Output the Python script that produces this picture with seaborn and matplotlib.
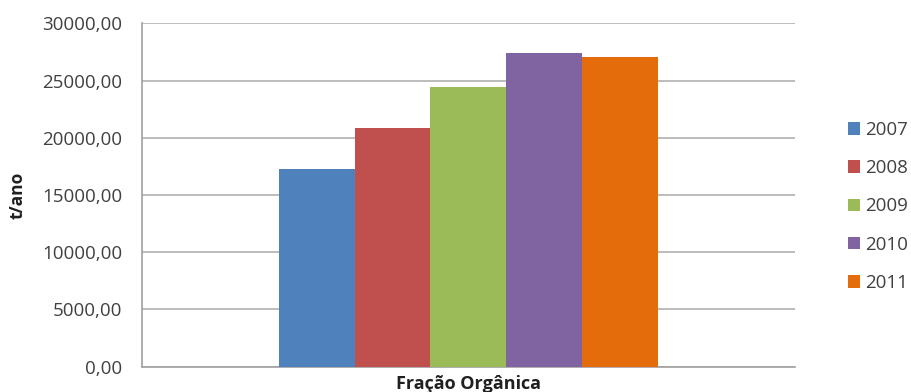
import pandas as pd
import numpy as np
import matplotlib
matplotlib.use("Agg")
import matplotlib.pyplot as plt
import seaborn as sns

sns.set_style("white")
plt.rcParams['font.family'] = ['Open Sans', 'DejaVu Sans']

categoria = ["Fração Orgânica"]
anos = ["2007", "2008", "2009", "2010", "2011"]
valores = [17300, 20850, 24450, 27400, 27050]
cores = ["#4F81BD", "#C0504D", "#9BBB59", "#8064A2", "#E46C0A"]
yticks = [0, 5000, 10000, 15000, 20000, 25000, 30000]

df = pd.DataFrame({'categoria': categoria * len(anos), 'ano': anos, 't/ano': valores})

fig = plt.figure(figsize=(9.11, 3.92), dpi=100)
ax = fig.add_axes([0.1555, 0.0645, 0.7172, 0.876])
sns.barplot(data=df, x='categoria', y='t/ano', hue='ano', palette=cores,
            width=0.58, gap=0, saturation=1, linewidth=0, ax=ax, zorder=3)

ax.set_ylim(0, 30000)
ax.set_yticks(yticks)
ax.set_yticklabels([f"{v},00" for v in yticks], fontsize=13.5, color="#404040")
ax.yaxis.grid(True, color="#B0B0B0", lw=1.2, zorder=0)
ax.set_axisbelow(True)
ax.tick_params(axis='y', length=6, color="#A0A0A0", width=1.2, pad=8)
ax.tick_params(axis='x', length=0, pad=6)
ax.set_xticklabels(categoria, fontsize=13, fontweight='bold', color="#202020")
ax.set_xlabel("")
ax.set_ylabel("t/ano", fontsize=12.5, fontweight='bold', color="#202020", labelpad=11)

for s in ['top', 'right']:
    ax.spines[s].set_visible(False)
for s in ['left', 'bottom']:
    ax.spines[s].set_color("#A0A0A0")
    ax.spines[s].set_linewidth(1.2)

leg = ax.legend(loc='center left', bbox_to_anchor=(1.055, 0.467), frameon=False,
                fontsize=13.5, handlelength=0.65, handleheight=0.65,
                handletextpad=0.25, labelspacing=1.08)
for t in leg.get_texts():
    t.set_color("#404040")

fig.savefig("out.png", dpi=100)
